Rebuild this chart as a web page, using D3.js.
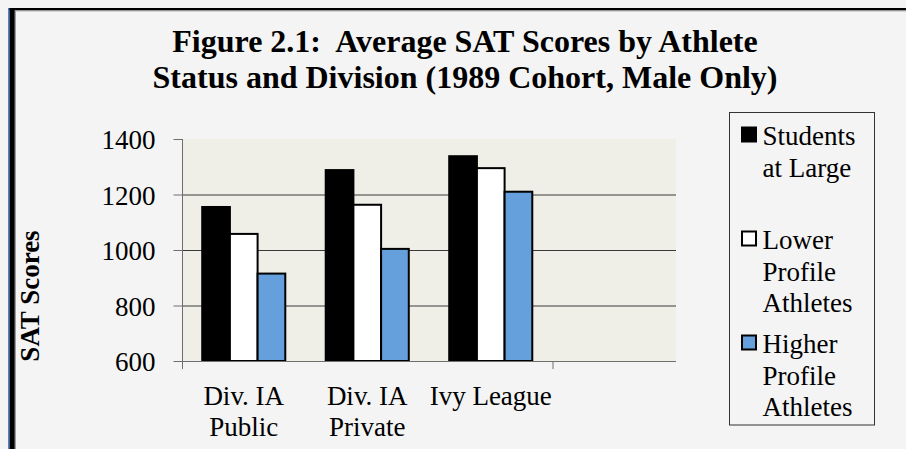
<!DOCTYPE html>
<html>
<head>
<meta charset="utf-8">
<script src="https://cdn.jsdelivr.net/npm/d3@7"></script>
<style>
  html, body { margin: 0; padding: 0; background: #f4f4f4; }
  svg { display: block; }
</style>
</head>
<body>
<script>
// chart data
const categories = ["Div. IA Public", "Div. IA Private", "Ivy League", ""];
const categoryLines = [["Div. IA", "Public"], ["Div. IA", "Private"], ["Ivy League"], []];
const seriesNames = ["Students at Large", "Lower Profile Athletes", "Higher Profile Athletes"];
const legendLines = [["Students", "at Large"], ["Lower", "Profile", "Athletes"], ["Higher", "Profile", "Athletes"]];
const studentsAtLarge = [1155, 1288, 1338];
const lowerProfile = [1058, 1163, 1295];
const higherProfile = [915, 1004, 1210];
const yTicks = [600, 800, 1000, 1200, 1400];
const titleLines = ["Figure 2.1:  Average SAT Scores by Athlete", "Status and Division (1989 Cohort, Male Only)"];
const yTitle = "SAT Scores";

const fills = ["#000000", "#ffffff", "#65a0dc"];
const font = "'Liberation Serif', 'Times New Roman', serif";

const width = 906, height = 449;
const plot = {left: 182, right: 676, top: 139, bottom: 361};

const svg = d3.select("body").append("svg")
  .attr("width", width)
  .attr("height", height);

// background + frame
svg.append("rect").attr("width", width).attr("height", height).attr("fill", "#f4f4f4");
svg.append("rect").attr("x", 8).attr("y", 8).attr("width", 1.5).attr("height", height).attr("fill", "#4f81d0");
svg.append("rect").attr("x", 9.5).attr("y", 8).attr("width", 5.3).attr("height", height).attr("fill", "#000");
svg.append("rect").attr("x", 9.5).attr("y", 8).attr("width", width).attr("height", 2.3).attr("fill", "#000");
svg.append("line").attr("x1", 15.3).attr("x2", 15.3).attr("y1", 10.5).attr("y2", height)
  .attr("stroke", "#8a8a8a").attr("stroke-width", 1);
svg.append("line").attr("x1", 15).attr("x2", width).attr("y1", 10.8).attr("y2", 10.8)
  .attr("stroke", "#8a8a8a").attr("stroke-width", 1);

// title
svg.append("g").selectAll("text")
  .data(titleLines)
  .enter().append("text")
  .attr("x", 465)
  .attr("y", (d, i) => 52.3 + i * 36)
  .attr("text-anchor", "middle")
  .attr("font-family", font)
  .attr("font-weight", "bold")
  .attr("font-size", 32)
  .attr("fill", "#000")
  .attr("xml:space", "preserve")
  .style("white-space", "pre")
  .text(d => d);

// scales
const x0 = d3.scaleBand()
  .domain(categories)
  .range([plot.left, plot.right])
  .padding(0);

const x1 = d3.scaleBand()
  .domain(seriesNames)
  .range([0, x0.bandwidth()])
  .paddingInner(0)
  .paddingOuter(0.73);

const y = d3.scaleLinear()
  .domain([600, 1400])
  .range([plot.bottom, plot.top]);

// plot area
svg.append("rect")
  .attr("x", plot.left).attr("y", plot.top)
  .attr("width", plot.right - plot.left).attr("height", plot.bottom - plot.top)
  .attr("fill", "#efeee7");

// gridlines (not at 600, which is the axis, and not at 1400)
svg.append("g").selectAll("line")
  .data(yTicks.filter(t => t > 600 && t < 1400))
  .enter().append("line")
  .attr("x1", plot.left).attr("x2", plot.right)
  .attr("y1", d => y(d) + 0.5).attr("y2", d => y(d) + 0.5)
  .attr("stroke", "#3a3a3a").attr("stroke-width", 1);

// y axis
const yAxis = svg.append("g")
  .attr("transform", "translate(" + (plot.left + 0.5) + ",0)")
  .call(d3.axisLeft(y).tickValues(yTicks).tickFormat(d3.format("d"))
    .tickSize(9).tickPadding(18).tickSizeOuter(0));
yAxis.select(".domain").remove();
yAxis.append("line").attr("x1", 0).attr("x2", 0).attr("y1", plot.top).attr("y2", plot.bottom + 8)
  .attr("stroke", "#6e6e6e");
yAxis.selectAll(".tick line").attr("stroke", "#6e6e6e");
yAxis.selectAll(".tick text")
  .attr("font-family", font).attr("font-size", 27).attr("fill", "#000")
  .attr("dy", "0.36em");

// bars
const rows = [studentsAtLarge, lowerProfile, higherProfile];
const groups = svg.append("g").selectAll("g")
  .data(categories.slice(0, 3))
  .enter().append("g")
  .attr("transform", d => "translate(" + x0(d) + ",0)");

groups.selectAll("rect")
  .data((d, i) => seriesNames.map((s, j) => ({series: s, value: rows[j][i], k: j})))
  .enter().append("rect")
  .attr("x", d => x1(d.series))
  .attr("y", d => y(d.value))
  .attr("width", x1.bandwidth())
  .attr("height", d => y(600) - y(d.value))
  .attr("fill", d => fills[d.k])
  .attr("stroke", "#000")
  .attr("stroke-width", 2);

// x axis
svg.append("line")
  .attr("x1", plot.left).attr("x2", plot.right)
  .attr("y1", plot.bottom + 0.5).attr("y2", plot.bottom + 0.5)
  .attr("stroke", "#6e6e6e");
svg.append("line")
  .attr("x1", x0(categories[3]) + 0.5).attr("x2", x0(categories[3]) + 0.5)
  .attr("y1", plot.bottom).attr("y2", plot.bottom + 8)
  .attr("stroke", "#6e6e6e");

svg.append("g").selectAll("text")
  .data(categories)
  .enter().append("text")
  .attr("x", d => x0(d) + x0.bandwidth() / 2)
  .attr("y", 405)
  .attr("text-anchor", "middle")
  .attr("font-family", font)
  .attr("font-size", 27)
  .selectAll("tspan")
  .data((d, i) => categoryLines[i])
  .enter().append("tspan")
  .attr("x", function() { return this.parentNode.getAttribute("x"); })
  .attr("dy", (d, i) => i === 0 ? 0 : 31)
  .text(d => d);

// y title
svg.append("text")
  .attr("transform", "translate(39,296) rotate(-90)")
  .attr("text-anchor", "middle")
  .attr("font-family", font)
  .attr("font-weight", "bold")
  .attr("font-size", 27)
  .text(yTitle);

// legend
svg.append("rect")
  .attr("x", 729.5).attr("y", 112.5)
  .attr("width", 145).attr("height", 312.5)
  .attr("fill", "#f4f4f4")
  .attr("stroke", "#333").attr("stroke-width", 1);

const legend = svg.append("g").selectAll("g")
  .data(seriesNames)
  .enter().append("g")
  .attr("transform", (d, i) => "translate(0," + (i * 104) + ")");

legend.append("rect")
  .attr("x", 742).attr("y", 127.5)
  .attr("width", 14).attr("height", 14)
  .attr("fill", (d, i) => fills[i])
  .attr("stroke", "#000").attr("stroke-width", 2);

legend.append("text")
  .attr("font-family", font)
  .attr("font-size", 27)
  .selectAll("tspan")
  .data((d, i) => legendLines[i])
  .enter().append("tspan")
  .attr("x", 762.5)
  .attr("y", (d, i) => 145 + i * 31.7)
  .text(d => d);
</script>
</body>
</html>
